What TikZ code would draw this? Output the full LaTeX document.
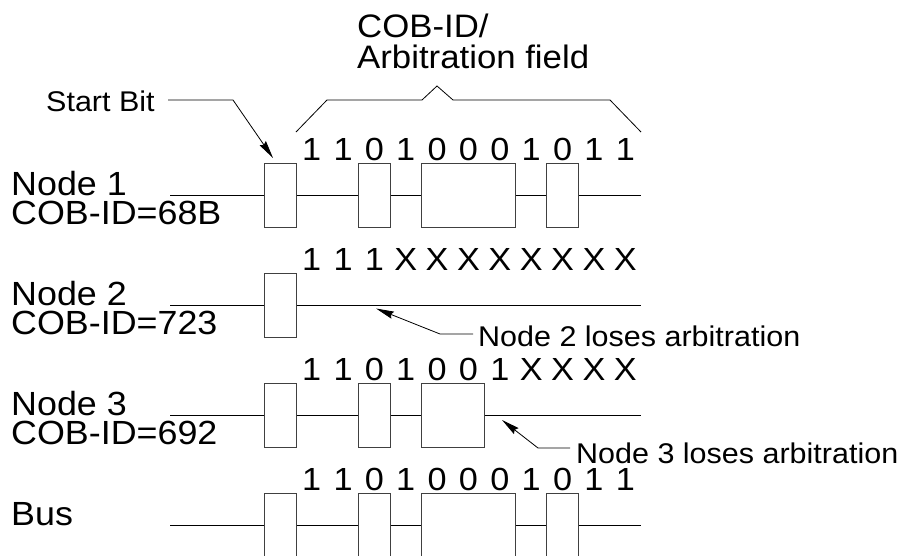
\documentclass[tikz,border=0pt]{standalone}
\usepackage{fontspec}
\setmainfont{Liberation Sans}[FakeStretch=1.07]
\usetikzlibrary{arrows.meta}
\tikzset{
  wire/.style={line width=1pt, black},
  boxline/.style={line width=1pt, black!75},
  lbl/.style={inner sep=0pt, anchor=base west, align=left, font=\fontsize{33.5}{29.5}\selectfont},
  note/.style={inner sep=0pt, anchor=base west, font=\fontsize{28.5}{28.5}\selectfont},
  bitdigit/.style={inner sep=0pt, anchor=base, font=\fontsize{32}{32}\selectfont},
  leader/.style={line width=0.8pt, black, -{Stealth[length=18pt,width=7.5pt,inset=2pt]}},
}
\begin{document}
\begin{tikzpicture}[x=1pt,y=-1pt]
\useasboundingbox (0,0) rectangle (910,555);

% ---------- title and brace ----------
\node[lbl, font=\fontsize{32.5}{31}\selectfont] (title) at (357,68) {COB-ID/\\Arbitration field};
\draw[wire, line width=0.8pt] (296,132) -- (327,100) -- (422,100) -- (437,86) -- (453,100) -- (610,100) -- (641,132);

% ---------- start bit ----------
\node[note] (sb) at (46,111) {Start Bit};
\coordinate (sbA) at (168,100);
\coordinate (sbB) at (233,100);
\coordinate (sbTip) at (273,158);
\draw[leader] (sbA) -- (sbB) -- (sbTip);

% ---------- row labels (base = last line) ----------
\node[lbl] (n1) at (11,224.5) {Node 1\\COB-ID=68B};
\node[lbl] (n2) at (11,334.5) {Node 2\\COB-ID=723};
\node[lbl] (n3) at (11,444.5) {Node 3\\COB-ID=692};
\node[lbl] (bus) at (11,525) {Bus};

% ---------- bit digits ----------
\foreach \d [count=\i from 0] in {1,1,0,1,0,0,0,1,0,1,1}
  \node[bitdigit] (r1d\i) at ({296+31.36*(\i+0.5)},160) {\d};
\foreach \d [count=\i from 0] in {1,1,1,X,X,X,X,X,X,X,X}
  \node[bitdigit] (r2d\i) at ({296+31.36*(\i+0.5)},270) {\d};
\foreach \d [count=\i from 0] in {1,1,0,1,0,0,1,X,X,X,X}
  \node[bitdigit] (r3d\i) at ({296+31.36*(\i+0.5)},380) {\d};
\foreach \d [count=\i from 0] in {1,1,0,1,0,0,0,1,0,1,1}
  \node[bitdigit] (r4d\i) at ({296+31.36*(\i+0.5)},490) {\d};

% ---------- Node 1 waveform ----------
\draw[wire] (170,195) -- (264.64,195) (296,195) -- (358.72,195)
  (390.08,195) -- (421.44,195) (515.52,195) -- (546.88,195) (578.24,195) -- (640.96,195);
\foreach \a/\b in {264.64/296, 358.72/390.08, 421.44/515.52, 546.88/578.24}
  \draw[boxline] (\a,163) rectangle (\b,227);

% ---------- Node 2 waveform ----------
\draw[wire] (170,305) -- (264.64,305) (296,305) -- (640.96,305);
\draw[boxline] (264.64,273) rectangle (296,337);

% ---------- Node 3 waveform ----------
\draw[wire] (170,415) -- (264.64,415) (296,415) -- (358.72,415)
  (390.08,415) -- (421.44,415) (484.16,415) -- (640.96,415);
\foreach \a/\b in {264.64/296, 358.72/390.08, 421.44/484.16}
  \draw[boxline] (\a,383) rectangle (\b,447);

% ---------- Bus waveform ----------
\draw[wire] (170,525) -- (264.64,525) (296,525) -- (358.72,525)
  (390.08,525) -- (421.44,525) (515.52,525) -- (546.88,525) (578.24,525) -- (640.96,525);
\foreach \a/\b in {264.64/296, 358.72/390.08, 421.44/515.52, 546.88/578.24}
  \draw[boxline] (\a,556) -- (\a,493) -- (\b,493) -- (\b,556);

% ---------- losing annotations ----------
\node[note] (l2) at (478,346) {Node 2 loses arbitration};
\coordinate (l2A) at (473,334);
\coordinate (l2B) at (440,334);
\coordinate (l2Tip) at (376,308.5);
\draw[leader] (l2A) -- (l2B) -- (l2Tip);

\node[note] (l3) at (576,463) {Node 3 loses arbitration};
\coordinate (l3A) at (570,448);
\coordinate (l3B) at (538,448);
\coordinate (l3Tip) at (502,420);
\draw[leader] (l3A) -- (l3B) -- (l3Tip);
\end{tikzpicture}
\end{document}
